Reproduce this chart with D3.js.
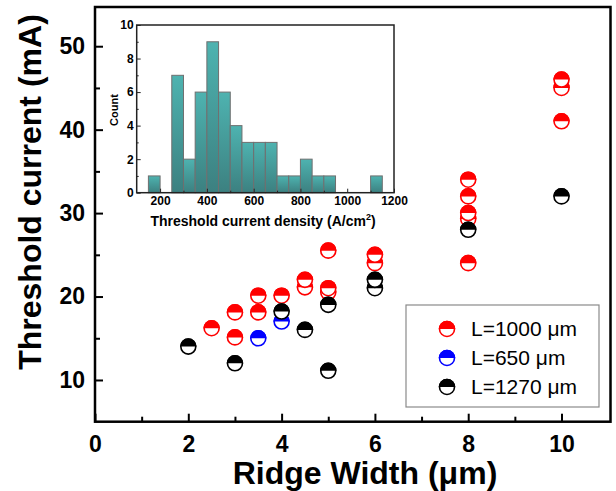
<!DOCTYPE html>
<html>
<head>
<meta charset="utf-8">
<script src="https://cdn.jsdelivr.net/npm/d3@7"></script>
<style>
  html, body { margin: 0; padding: 0; background: #fff; }
  svg { display: block; font-family: "Liberation Sans", Arial, sans-serif; }
</style>
</head>
<body>
<svg id="chart" width="616" height="491"></svg>
<script>
// ---------- Data ----------
// Main scatter: [ridge width (um), threshold current (mA)]
const seriesL1000 = [[2.5,16.2],[3,18.1],[3,15.1],[3.5,20.1],[3.5,18.1],[4,20.1],[4.5,21.1],[4.5,22],
  [5,20.5],[5,21],[5,25.5],[6,24],[6,25],[8,24],[8,29.3],[8,30],[8,32],[8,34],[10,41],[10,45],[10,46]];
const seriesL650 = [[3.5,15],[4,17]];
const seriesL1270 = [[2,14],[3,12],[4,18.2],[4.5,16],[5,19],[5,11.1],[6,21],[6,22],[8,28],[10,32]];
const seriesNames = ["L=1000 \u03bcm", "L=650 \u03bcm", "L=1270 \u03bcm"];
const seriesColors = ["#ff0000", "#0000ff", "#000000"];
const xTicks = [0, 2, 4, 6, 8, 10];
const yTicks = [10, 20, 30, 40, 50];

// Inset histogram: bin start (A/cm^2), bin width 50, counts
const binStarts = [150, 250, 300, 350, 400, 450, 500, 550, 600, 650, 700, 750, 800, 850, 900, 1100];
const binCounts = [1, 7, 2, 6, 9, 6, 4, 3, 3, 3, 1, 1, 2, 1, 1, 1];
const binWidth = 50;
const insetXTicks = [200, 400, 600, 800, 1000, 1200];
const insetYTicks = [0, 2, 4, 6, 8, 10];

// ---------- Setup ----------
const svg = d3.select("#chart");
const x = d3.scaleLinear().domain([0, 11.05]).range([95, 610.5]);
const y = d3.scaleLinear().domain([5, 54.7]).range([421.7, 7]);

const defs = svg.append("defs");
const grad = defs.append("linearGradient").attr("id", "barGrad")
  .attr("x1", 0).attr("y1", 0).attr("x2", 0).attr("y2", 1);
grad.append("stop").attr("offset", "0%").attr("stop-color", "#4eb3b0");
grad.append("stop").attr("offset", "100%").attr("stop-color", "#3c8080");

// ---------- Main axes (inward ticks) ----------
function styleAxis(g) {
  g.select(".domain").remove();
  g.selectAll(".tick line").attr("stroke", "#000").attr("stroke-width", 2);
}
const xMinor = d3.range(1, 11, 2);
const yMinor = [15, 25, 35, 45];

svg.append("g").attr("transform", `translate(0,${y.range()[0]})`)
  .call(d3.axisBottom(x).tickValues(xMinor).tickSize(-5).tickFormat(""))
  .call(styleAxis);
svg.append("g").attr("transform", `translate(0,${y.range()[0]})`)
  .call(d3.axisBottom(x).tickValues(xTicks).tickSize(-8).tickPadding(14).tickFormat(d3.format("d")))
  .call(styleAxis)
  .call(g => g.selectAll("text").attr("font-size", 23).attr("font-weight", "bold").attr("fill", "#000"));

svg.append("g").attr("transform", `translate(${x.range()[0]},0)`)
  .call(d3.axisLeft(y).tickValues(yMinor).tickSize(-5).tickFormat(""))
  .call(styleAxis);
svg.append("g").attr("transform", `translate(${x.range()[0]},0)`)
  .call(d3.axisLeft(y).tickValues(yTicks).tickSize(-8).tickPadding(10).tickFormat(d3.format("d")))
  .call(styleAxis)
  .call(g => g.selectAll("text").attr("font-size", 23).attr("font-weight", "bold").attr("fill", "#000"));

// Frame
svg.append("rect")
  .attr("x", x.range()[0]).attr("y", y.range()[1])
  .attr("width", x.range()[1] - x.range()[0]).attr("height", y.range()[0] - y.range()[1])
  .attr("fill", "none").attr("stroke", "#000").attr("stroke-width", 2.5);

// Axis titles
svg.append("text").attr("x", 365).attr("y", 484).attr("text-anchor", "middle")
  .attr("font-size", 32).attr("font-weight", "bold").text("Ridge Width (\u03bcm)");
svg.append("text").attr("transform", "translate(41,192) rotate(-90)").attr("text-anchor", "middle")
  .attr("font-size", 32).attr("font-weight", "bold").text("Threshold current (mA)");

// ---------- Markers ----------
const R = 8.3;
function marker(g, color) {
  g.append("circle").attr("r", R - 0.8).attr("fill", "#fff").attr("stroke", color).attr("stroke-width", 1.6);
  g.append("path").attr("d", `M${-R},0 A${R},${R} 0 0 1 ${R},0 Z`).attr("fill", color);
}
const allSeries = [seriesL1000, seriesL650, seriesL1270];
allSeries.forEach((s, i) => {
  svg.append("g").selectAll("g").data(s).join("g")
    .attr("transform", d => `translate(${x(d[0])},${y(d[1])})`)
    .each(function () { marker(d3.select(this), seriesColors[i]); });
});

// ---------- Legend ----------
const lg = svg.append("g");
lg.append("rect").attr("x", 406).attr("y", 305).attr("width", 193).attr("height", 102)
  .attr("fill", "#fff").attr("stroke", "#8a8a8a").attr("stroke-width", 1.2);
const legendY = [329, 358, 387];
seriesNames.forEach((n, i) => {
  const g = lg.append("g").attr("transform", `translate(447,${legendY[i]})`);
  marker(g, seriesColors[i]);
  lg.append("text").attr("x", 471).attr("y", legendY[i] + 7).attr("font-size", 21).text(n);
});

// ---------- Inset histogram ----------
const ix = d3.scaleLinear().domain([100, 1200]).range([136.7, 394]);
const iy = d3.scaleLinear().domain([0, 10]).range([192.7, 25]);
const inset = svg.append("g");
inset.append("rect").attr("x", ix.range()[0]).attr("y", iy.range()[1])
  .attr("width", ix.range()[1] - ix.range()[0]).attr("height", iy.range()[0] - iy.range()[1])
  .attr("fill", "#fff");

inset.selectAll("rect.bar").data(binStarts).join("rect").attr("class", "bar")
  .attr("x", d => ix(d)).attr("width", d => ix(d + binWidth) - ix(d))
  .attr("y", (d, i) => iy(binCounts[i])).attr("height", (d, i) => iy(0) - iy(binCounts[i]))
  .attr("fill", "url(#barGrad)").attr("stroke", "#6f6f6f").attr("stroke-width", 1);

function styleInsetAxis(g) {
  g.select(".domain").remove();
  g.selectAll(".tick line").attr("stroke", "#222").attr("stroke-width", 1);
  g.selectAll("text").attr("font-size", 12).attr("font-weight", "bold").attr("fill", "#000");
}
inset.append("g").attr("transform", `translate(0,${iy.range()[0]})`)
  .call(d3.axisBottom(ix).tickValues(d3.range(300, 1200, 200)).tickSize(-2).tickFormat(""))
  .call(styleInsetAxis);
inset.append("g").attr("transform", `translate(0,${iy.range()[0]})`)
  .call(d3.axisBottom(ix).tickValues(insetXTicks).tickSize(-4).tickPadding(4).tickFormat(d3.format("d")))
  .call(styleInsetAxis);
inset.append("g").attr("transform", `translate(${ix.range()[0]},0)`)
  .call(d3.axisLeft(iy).tickValues(d3.range(1, 10, 2)).tickSize(-2).tickFormat(""))
  .call(styleInsetAxis);
inset.append("g").attr("transform", `translate(${ix.range()[0]},0)`)
  .call(d3.axisLeft(iy).tickValues(insetYTicks).tickSize(-4).tickPadding(3).tickFormat(d3.format("d")))
  .call(styleInsetAxis);

inset.append("rect").attr("x", ix.range()[0]).attr("y", iy.range()[1])
  .attr("width", ix.range()[1] - ix.range()[0]).attr("height", iy.range()[0] - iy.range()[1])
  .attr("fill", "none").attr("stroke", "#222").attr("stroke-width", 1.5);

const t = inset.append("text").attr("x", 263).attr("y", 226).attr("text-anchor", "middle")
  .attr("font-size", 14).attr("font-weight", "bold");
t.append("tspan").text("Threshold current density (A/cm");
t.append("tspan").attr("font-size", 9).attr("dy", -6).text("2");
t.append("tspan").attr("dy", 6).text(")");

inset.append("text").attr("transform", "translate(118,110) rotate(-90)").attr("text-anchor", "middle")
  .attr("font-size", 11).attr("font-weight", "bold").text("Count");
</script>
</body>
</html>
